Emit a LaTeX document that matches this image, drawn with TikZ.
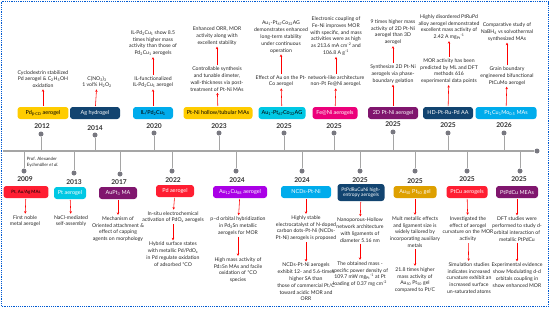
\documentclass[tikz,border=0pt]{standalone}
\usepackage{fontspec}
\setmainfont{Lato}
\usepackage{tikz}
\usetikzlibrary{arrows.meta,calc}
\usepackage{xcolor}
\definecolor{tlyellow}{RGB}{255,204,0}
\definecolor{tlnavy}{RGB}{18,68,112}
\definecolor{tlsky}{RGB}{0,172,236}
\definecolor{tlcyan}{RGB}{0,200,228}
\definecolor{tlpink}{RGB}{236,0,122}
\definecolor{tlplum}{RGB}{128,22,110}
\definecolor{tlred}{RGB}{255,30,50}
\definecolor{tlviolet}{RGB}{170,0,230}
\definecolor{tlgold}{RGB}{222,160,0}
\definecolor{tlline}{RGB}{165,165,165}
\definecolor{tldot}{RGB}{120,120,128}
\definecolor{tlframe}{RGB}{0,90,210}
\newcommand{\tsub}[1]{\textsubscript{#1}}
\newcommand{\tsup}[1]{\textsuperscript{#1}}

\begin{document}
\begin{tikzpicture}[x=0.05cm,y=-0.05cm,
    axis/.style={tlline,line width=1.6pt},
    stem/.style={tlline,line width=1.2pt},
    dot/.style={circle,fill=tldot,inner sep=0pt,minimum size=0.25cm},
    yr/.style={font=\fontsize{9.5}{10}\selectfont\bfseries,text=black!80,inner sep=0pt},
    tlbox/.style={rounded corners=4pt,minimum height=0.6cm,inner sep=1pt,align=center,
        font=\fontsize{7.8}{8.6}\selectfont,text=white},
    note/.style={align=center,inner sep=1pt,font=\fontsize{7.3}{9.7}\selectfont,text=black!85},
    arr/.style={red,line width=0.8pt,-{Stealth[length=3.5pt,width=3.5pt]},shorten >=1pt,shorten <=1pt}]
    \useasboundingbox (0,0) rectangle (550,308);
    % Frame
    \draw[tlframe,line width=1.4pt,dash pattern=on 1.3pt off 1.3pt] (1.5,1.5) rectangle (548.5,306.5);

    % Time axis
    \coordinate (ax0) at (3,151);
    \node[dot] (axend) at (537,151) {};
    \draw[axis] (ax0) -- (axend);

    % ---------- upper entries ----------
    % 2012
    \node[dot] (d2012) at (41,134) {};
    \draw[stem] (d2012) -- (d2012 |- ax0);
    \node[yr] (y2012) at (42,126) {2012};
    \node[tlbox,fill=tlyellow,text=black,minimum width=2.55cm] (b2012) at (43,113) {Pd\tsub{β-CD} aerogel};
    \node[note] (n2012) at (43,79) {Cyclodextrin stabilized\\Pd aerogel \& C\tsub{2}H\tsub{5}OH\\oxidation};
    \draw[arr] (b2012) -- (n2012);

    % 2014
    \node[dot] (d2014) at (95,135) {};
    \draw[stem] (d2014) -- (d2014 |- ax0);
    \node[yr] (y2014) at (95,128) {2014};
    \node[tlbox,fill=tlnavy,minimum width=2.5cm] (b2014) at (95,113) {Ag hydrogel};
    \node[note] (n2014) at (97,82) {C(NO\tsub{3})\tsub{3}\\1 vol\% H\tsub{2}O\tsub{2}};
    \draw[arr] (b2014) -- (n2014);

    % 2020
    \node[dot] (d2020) at (154,133) {};
    \draw[stem] (d2020) -- (d2020 |- ax0);
    \node[yr] (y2020) at (154,126) {2020};
    \node[tlbox,fill=tlsky,text=black,minimum width=2cm] (b2020) at (153,113) {IL/Pd\tsub{2}Cu\tsub{1}};
    \node[note] (n2020a) at (153,82) {IL-functionalized\\IL-Pd\tsub{2}Cu\tsub{1} aerogel};
    \node[note] (n2020b) at (153,43) {IL-Pd\tsub{2}Cu\tsub{1} show 8.5\\times higher mass\\activity than those of\\Pd\tsub{2}Cu\tsub{1} aerogels};
    \draw[arr] (b2020) -- (n2020a);
    \draw[arr] (n2020a) -- (n2020b);

    % 2023
    \node[dot] (d2023) at (219,133) {};
    \draw[stem] (d2023) -- (d2023 |- ax0);
    \node[yr] (y2023) at (219,126) {2023};
    \node[tlbox,fill=tlyellow,text=black,minimum width=3.45cm] (b2023) at (218,113) {Pt-Ni hollow/tubular MAs};
    \node[note] (n2023a) at (217,79) {Controllable synthesis\\and tunable dimeter,\\wall-thickness via post-\\treatment of Pt-Ni MAs};
    \node[note] (n2023b) at (217,36) {Enhanced ORR, MOR\\activity along with\\excellent stability};
    \draw[arr] (b2023) -- (n2023a);
    \draw[arr] (n2023a) -- (n2023b);

    % 2025 Au-Pt-Co
    \node[dot] (d2025a) at (284,133) {};
    \draw[stem] (d2025a) -- (d2025a |- ax0);
    \node[yr] (y2025a) at (284,126) {2025};
    \node[tlbox,fill=tlcyan,text=black,minimum width=2.35cm] (b2025a) at (282,113) {Au\tsub{1}-Pt\tsub{67}Co\tsub{32}AG};
    \node[note] (n2025aa) at (281,81) {Effect of Au on the Pt-\\Co aerogel};
    \node[note] (n2025ab) at (281,37) {Au\tsub{1}-Pt\tsub{67}Co\tsub{32}AG\\demonstrates enhanced\\long-term stability\\under continuous\\operation};
    \draw[arr] (b2025a) -- (n2025aa);
    \draw[arr] (n2025aa) -- (n2025ab);

    % 2025 Fe@Ni
    \node[dot] (d2025b) at (334,133) {};
    \draw[stem] (d2025b) -- (d2025b |- ax0);
    \node[yr] (y2025b) at (334,126) {2025};
    \node[tlbox,fill=tlpink,minimum width=2.25cm] (b2025b) at (335,113) {Fe@Ni aerogels};
    \node[note] (n2025ba) at (336,81) {network-like architecture\\non-Pt Fe@Ni aerogel.};
    \node[note] (n2025bb) at (336,36) {Electronic coupling of\\Fe-Ni improves MOR\\with specific, and mass\\activities were as high\\as 213.6 mA cm\tsup{-2} and\\106.8 A g\tsup{-1}};
    \draw[arr] (b2025b) -- (n2025ba);
    \draw[arr] (n2025ba) -- (n2025bb);

    % 2025 2D Pt-Ni
    \node[dot] (d2025c) at (393,132) {};
    \draw[stem] (d2025c) -- (d2025c |- ax0);
    \node[yr] (y2025c) at (393,124) {2025};
    \node[tlbox,fill=tlplum,minimum width=2.5cm] (b2025c) at (393,113) {2D Pt-Ni aerogel};
    \node[note] (n2025ca) at (393,74) {Synthesize 2D Pt-Ni\\aerogels via phase-\\boundary gelation};
    \node[note] (n2025cb) at (393,32) {9 times higher mass\\activity of 2D Pt-Ni\\aerogel than 3D\\aerogel};
    \draw[arr] (b2025c) -- (n2025ca);
    \draw[arr] (n2025ca) -- (n2025cb);

    % 2025 HD-Pt-Ru-Pd
    \node[dot] (d2025d) at (448,133) {};
    \draw[stem] (d2025d) -- (d2025d |- ax0);
    \node[yr] (y2025d) at (448,125) {2025};
    \node[tlbox,fill=tlnavy,minimum width=2.5cm] (b2025d) at (448,113) {HD-Pt-Ru-Pd AA};
    \node[note] (n2025da) at (449,71) {MOR activity has been\\predicted by ML and DFT\\methods 616\\experimental data points};
    \node[note] (n2025db) at (449,27) {Highly disordered PtRuPd\\alloy aerogel demonstrated\\excellent mass activity of\\2.42 A mg\tsub{Pt}\tsup{-1}};
    \draw[arr] (b2025d) -- (n2025da);
    \draw[arr] (n2025da) -- (n2025db);

    % 2026
    \node[dot] (d2026) at (504,133) {};
    \draw[stem] (d2026) -- (d2026 |- ax0);
    \node[yr] (y2026) at (504,125) {2026};
    \node[tlbox,fill=tlsky,minimum width=3.05cm] (b2026) at (506,113) {Pt\tsub{1}Cu\tsub{1}Mo\tsub{0.5} MAs};
    \node[note] (n2026a) at (507,76) {Grain boundary\\engineered bifunctional\\PtCuMo aerogel};
    \node[note] (n2026b) at (507,32) {Comparative study of\\NaBH\tsub{4} vs solvothermal\\synthesized MAs};
    \draw[arr] (b2026) -- (n2026a);
    \draw[arr] (n2026a) -- (n2026b);

    % ---------- lower entries ----------
    % 2009
    \node[dot] (d2009) at (24,171) {};
    \draw[stem] (d2009 |- ax0) -- (d2009);
    \node[note,anchor=west,align=left,font=\fontsize{6.3}{8}\selectfont] (prof) at (26,162) {Prof. Alexander\\Eychmüller \textit{et al.}};
    \node[yr] (y2009) at (25,179) {2009};
    \node[tlbox,fill=tlred,text=black,minimum width=2.25cm,font=\fontsize{6.3}{7.4}\selectfont] (b2009) at (26,192) {Pt, Au/Ag MAs};
    \node[note] (n2009) at (25,221) {First noble\\metal aerogel};
    \draw[arr] (b2009) -- (n2009);

    % 2013
    \node[dot] (d2013) at (74,173) {};
    \draw[stem] (d2013 |- ax0) -- (d2013);
    \node[yr] (y2013) at (74,182) {2013};
    \node[tlbox,fill=tlcyan,minimum width=1.6cm] (b2013) at (70,193) {Pt aerogel};
    \node[note] (n2013) at (71,221) {NaCl-mediated\\self-assembly};
    \draw[arr] (b2013) -- (n2013);

    % 2017
    \node[dot] (d2017) at (120,174) {};
    \draw[stem] (d2017 |- ax0) -- (d2017);
    \node[yr] (y2017) at (119,182) {2017};
    \node[tlbox,fill=tlplum,minimum width=1.9cm] (b2017) at (118,193) {AuPt\tsub{3} MA};
    \node[note] (n2017) at (118,229) {Mechanism of\\Oriented attachment \&\\effect of capping\\agents on morphology};
    \draw[arr] (b2017) -- (n2017);

    % 2022
    \node[dot] (d2022) at (172,171) {};
    \draw[stem] (d2022 |- ax0) -- (d2022);
    \node[yr] (y2022) at (173,180) {2022};
    \node[tlbox,fill=tlred,minimum width=1.9cm] (b2022) at (175,191) {Pd aerogel};
    \node[note] (n2022a) at (173,217) {In-situ electrochemical\\activation of PdO\tsub{x} aerogels};
    \node[note] (n2022b) at (173,254) {Hybrid surface states\\with metallic Pd/PdO\tsub{x}\\in Pd regulate oxidation\\of adsorbed *CO};
    \draw[arr] (b2022) -- (n2022a);
    \draw[arr] (n2022a) -- (n2022b);

    % 2024 Au-Cu
    \node[dot] (d2024a) at (236,171) {};
    \draw[stem] (d2024a |- ax0) -- (d2024a);
    \node[yr] (y2024a) at (237,180) {2024};
    \node[tlbox,fill=tlviolet,minimum width=2.7cm] (b2024a) at (240,192) {Au\tsub{12}Cu\tsub{88} aerogel};
    \node[note] (n2024aa) at (238,226) {p–d orbital hybridization\\in Pd\tsub{3}Sn metallic\\aerogels for MOR};
    \node[note] (n2024ab) at (238,270) {High mass activity of\\Pd\tsub{3}Sn MAs and facile\\oxidation of *CO\\species};
    \draw[arr] (b2024a) -- (n2024aa);
    \draw[arr] (n2024aa) -- (n2024ab);

    % 2024 NCDs
    \node[dot] (d2024b) at (302,171) {};
    \draw[stem] (d2024b |- ax0) -- (d2024b);
    \node[yr] (y2024b) at (302,180) {2024};
    \node[tlbox,fill=tlsky,minimum width=2.5cm] (b2024b) at (306,192) {NCDs-Pt-Ni};
    \node[note] (n2024ba) at (306,228) {Highly stable\\electrocatalyst of N-doped\\carbon dots-Pt-Ni (NCDs-\\Pt-Ni) aerogels is proposed};
    \node[note] (n2024bb) at (306,282) {NCDs-Pt-Ni aerogels\\exhibit 12- and 5.6-times\\higher SA than\\those of commercial Pt/C\\toward acidic MOR and\\ORR};
    \draw[arr] (b2024b) -- (n2024ba);
    \draw[arr] (n2024ba) -- (n2024bb);

    % 2025 high-entropy
    \node[dot] (d2025e) at (360,171) {};
    \draw[stem] (d2025e |- ax0) -- (d2025e);
    \node[yr] (y2025e) at (360,180) {2025};
    \node[tlbox,fill=tlnavy,minimum width=2.35cm,minimum height=0.85cm,font=\fontsize{7}{8}\selectfont] (b2025e) at (361,192.5) {PtPdRuCuNi high-\\entropy aerogels};
    \node[note] (n2025ea) at (360,230) {Nanoporous-Hollow\\network architecture\\with ligaments of\\diameter 5.16 nm};
    \node[note] (n2025eb) at (360,274) {The obtained mass -\\specific power density of\\109.7 mW mg\tsub{Pt}\tsup{-1} at Pt\\loading of 0.37 mg cm\tsup{-2}};
    \draw[arr] (b2025e) -- (n2025ea);
    \draw[arr] (n2025ea) -- (n2025eb);

    % 2025 Au-Pt gel
    \node[dot] (d2025f) at (415,171) {};
    \draw[stem] (d2025f |- ax0) -- (d2025f);
    \node[yr] (y2025f) at (415,181) {2025};
    \node[tlbox,fill=tlgold,minimum width=2.15cm] (b2025f) at (415,192) {Au\tsub{50} Pt\tsub{50} gel};
    \node[note] (n2025fa) at (415,232) {Mult metallic effects\\and ligament size is\\widely tailored by\\incorporating auxiliary\\metals};
    \node[note] (n2025fb) at (415,280) {21.8 times higher\\mass activity of\\Au\tsub{50} Pt\tsub{50} gel\\compared to Pt/C};
    \draw[arr] (b2025f) -- (n2025fa);
    \draw[arr] (n2025fa) -- (n2025fb);

    % 2025 PtCu
    \node[dot] (d2025g) at (467,171) {};
    \draw[stem] (d2025g |- ax0) -- (d2025g);
    \node[yr] (y2025g) at (467,179) {2025};
    \node[tlbox,fill=tlred,minimum width=2.05cm] (b2025g) at (467,192) {PtCu aerogels};
    \node[note] (n2025ga) at (468,229) {Investigated the\\effect of aerogel\\curvature on the MOR\\activity};
    \node[note] (n2025gb) at (469,278) {Simulation studies\\indicates increased\\curvature exhibit an\\increased surface\\un-saturated atoms};
    \draw[arr] (b2025g) -- (n2025ga);
    \draw[arr] (n2025ga) -- (n2025gb);

    % 2025 PtPdCu
    \node[dot] (d2025h) at (520,171) {};
    \draw[stem] (d2025h |- ax0) -- (d2025h);
    \node[yr] (y2025h) at (519,179) {2025};
    \node[tlbox,fill=tlplum,minimum width=2.1cm] (b2025h) at (517,192) {PtPdCu MEAs};
    \node[note] (n2025ha) at (517,229) {DFT studies were\\performed to study d-\\orbital interaction of\\metallic PtPdCu};
    \node[note] (n2025hb) at (517,275) {Experimental evidence\\show Modulating d-d\\orbitals coupling in\\show enhanced MOR};
    \draw[arr] (b2025h) -- (n2025ha);
    \draw[arr] (n2025ha) -- (n2025hb);
\end{tikzpicture}
\end{document}
